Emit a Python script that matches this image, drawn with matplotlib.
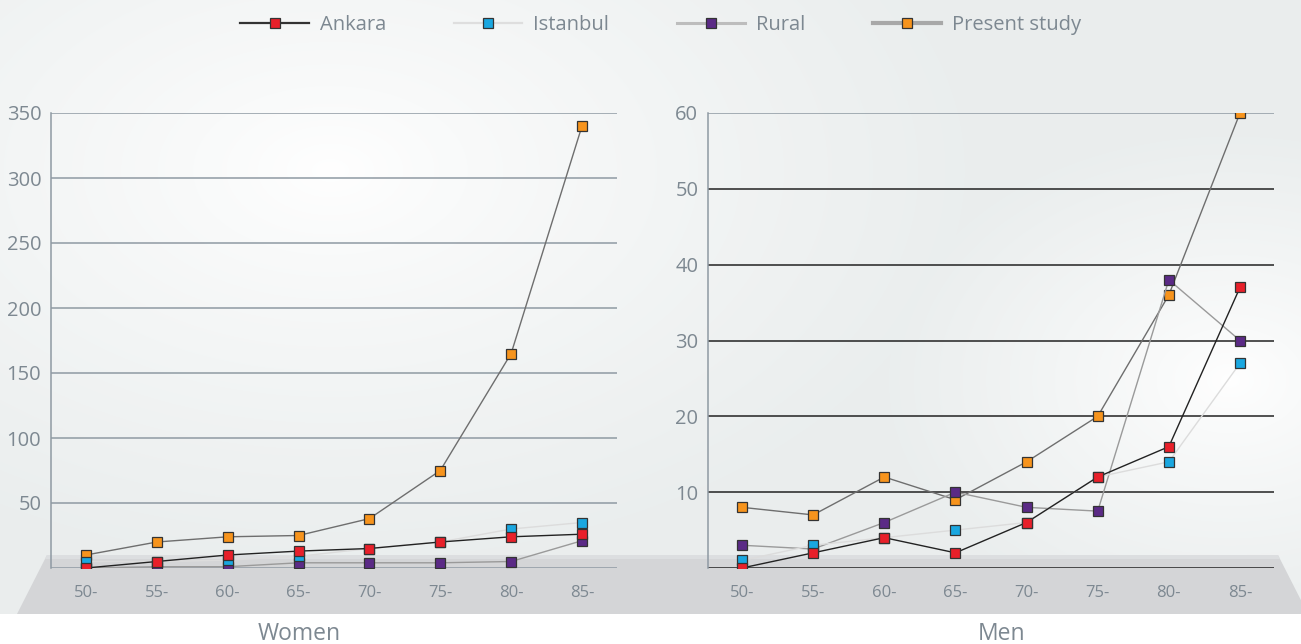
import numpy as np
import matplotlib
matplotlib.use("Agg")
import matplotlib.pyplot as plt
from matplotlib.patches import Polygon
from matplotlib.lines import Line2D

plt.rcParams['font.family'] = ['Open Sans', 'DejaVu Sans']

# data
age_groups = ["50-", "55-", "60-", "65-", "70-", "75-", "80-", "85-"]

women_ankara = [0, 5, 10, 13, 15, 20, 24, 26]
women_istanbul = [5, 5, 6, 9, 15, 20, 30, 35]
women_rural = [0, 1, 1, 4, 4, 4, 5, 21]
women_present = [10, 20, 24, 25, 38, 75, 165, 340]

men_ankara = [0, 2, 4, 2, 6, 12, 16, 37]
men_istanbul = [1, 3, 4, 5, 6, 12, 14, 27]
men_rural = [3, 2.5, 6, 10, 8, 7.5, 38, 30]
men_present = [8, 7, 12, 9, 14, 20, 36, 60]

series_names = ["Ankara", "Istanbul", "Rural", "Present study"]
line_colors = ["#222222", "#dcdcdc", "#9a9a9a", "#6e6e6e"]
marker_colors = ["#e8202a", "#1aa7e0", "#5b2a86", "#f7941d"]
legend_line_colors = ["#333333", "#dedede", "#bdbdbd", "#a8a8a8"]
legend_line_widths = [1.6, 1.6, 2.2, 3.0]

W, H = 1301, 644
fig = plt.figure(figsize=(W / 100, H / 100), dpi=100)
fig.patch.set_facecolor("white")

# background: soft gradient, grey floor below the plots
bg = fig.add_axes([0, 0, 1, 1])
bg.set_xlim(0, W)
bg.set_ylim(H, 0)
bg.axis("off")
yy, xx = np.mgrid[0:H, 0:W]
d1 = np.hypot((xx - 330) / 650, (yy - 170) / 400)
d2 = np.hypot((xx - 1230) / 420, (yy - 380) / 300)
t = np.clip(np.minimum(d1, d2 * 1.2), 0, 1) ** 0.8
base = np.array([0.918, 0.932, 0.932])
img = (1 - t[..., None]) * 1.0 + t[..., None] * base
img[yy >= 614] = 1.0
bg.imshow(img, extent=(0, W, H, 0), aspect="auto", zorder=0)
floor = Polygon([(47, 555), (1278, 555), (1308, 614), (17, 614)],
                closed=True, facecolor="#d4d5d7", edgecolor="none", zorder=1)
bg.add_patch(floor)
top_band = Polygon([(47, 555), (1278, 555), (1280, 559), (45, 559)],
                   closed=True, facecolor="#dcdee0", edgecolor="none", zorder=2)
bg.add_patch(top_band)

tick_color = "#7d8891"


def draw_panel(rect, xlim, ymax, yticks, data, grid_colors, title, title_x):
    ax = fig.add_axes(rect)
    ax.patch.set_alpha(0)
    x = np.arange(len(age_groups))
    for yt, gc in zip(yticks, grid_colors):
        ax.axhline(yt, color=gc, lw=1.1, zorder=1)
    ax.axhline(0, color=grid_colors[0], lw=1.1, zorder=1)
    order = [3, 2, 1, 0]
    for i in order:
        ax.plot(x, data[i], color=line_colors[i], lw=1.0, zorder=2 + (3 - i),
                marker="s", markersize=7, markerfacecolor=marker_colors[i],
                markeredgecolor="#333333", markeredgewidth=0.9)
    ax.set_xlim(*xlim)
    ax.set_ylim(0, ymax)
    ax.set_xticks(x)
    ax.set_xticklabels(age_groups)
    ax.set_yticks(yticks)
    ax.set_yticklabels([str(v) for v in yticks])
    ax.tick_params(axis="x", length=0, pad=12, labelsize=12, labelcolor=tick_color)
    ax.tick_params(axis="y", length=0, pad=7, labelsize=14.5, labelcolor=tick_color)
    for s in ["top", "right", "bottom"]:
        ax.spines[s].set_visible(False)
    ax.spines["left"].set_color("#8f9aa3")
    ax.spines["left"].set_linewidth(1.1)
    fig.text(title_x / W, 1 - 640 / H, title, ha="center", va="baseline",
             fontsize=16.5, color="#7d8891")
    return ax


left_rect = [51 / W, 1 - 568 / H, (617 - 51) / W, (568 - 113) / H]
right_rect = [708 / W, 1 - 568 / H, (1274 - 708) / W, (568 - 113) / H]

draw_panel(left_rect, (-0.494, 7.494), 350, [50, 100, 150, 200, 250, 300, 350],
           [women_ankara, women_istanbul, women_rural, women_present],
           ["#8f9aa3"] * 7, "Women", 299)
draw_panel(right_rect, (-0.478, 7.478), 60, [10, 20, 30, 40, 50, 60],
           [men_ankara, men_istanbul, men_rural, men_present],
           ["#222222"] * 5 + ["#8f9aa3"], "Men", 1002)

handles = [Line2D([], [], color=legend_line_colors[i], lw=legend_line_widths[i],
                  marker="s", markersize=7, markerfacecolor=marker_colors[i],
                  markeredgecolor="#333333", markeredgewidth=0.9)
           for i in range(4)]
fig.legend(handles, series_names, loc="center", bbox_to_anchor=(0.508, 1 - 25 / H),
           ncol=4, frameon=False, fontsize=14.5, labelcolor="#7d8891",
           handlelength=3.4, handletextpad=0.55, columnspacing=3.35)

fig.savefig("out.png", dpi=100)
